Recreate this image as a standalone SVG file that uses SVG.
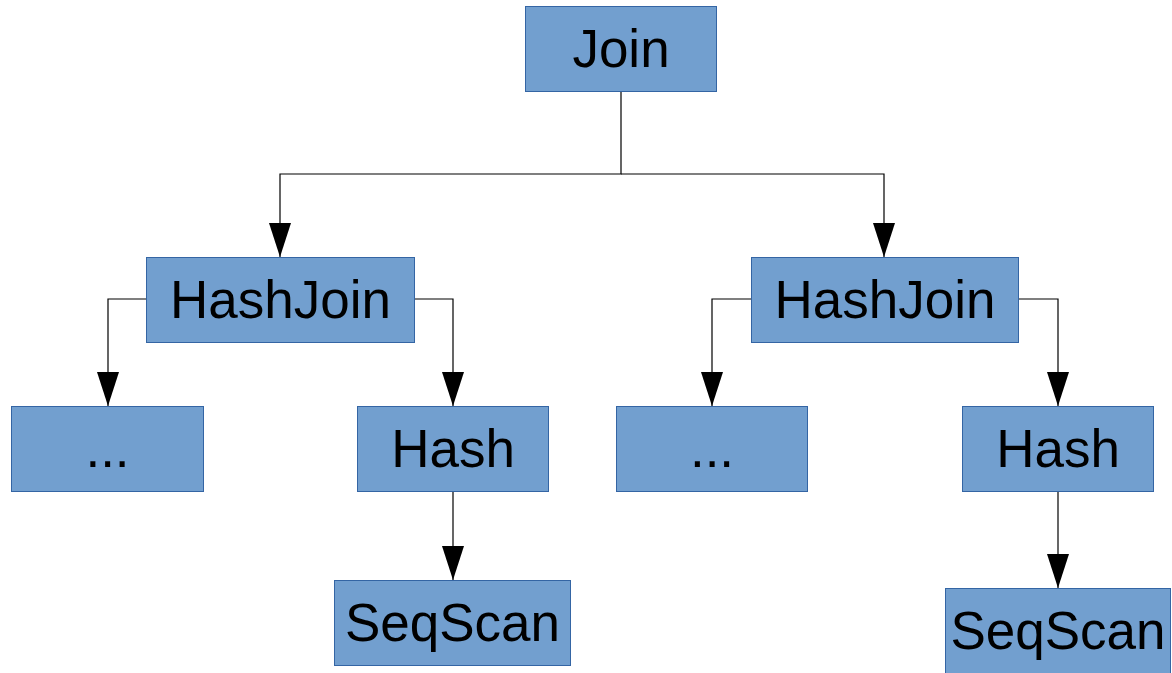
<svg xmlns="http://www.w3.org/2000/svg" width="1172" height="673" viewBox="0 0 1172 673">
<style>
.box{fill:#729fcf;stroke:#3465a4;stroke-width:1}
.lbl{font-family:"Liberation Sans",Arial,sans-serif;font-size:53px;fill:#000;text-anchor:middle}
.con{fill:none;stroke:#000;stroke-width:1.2;marker-end:url(#arr)}
</style>
<defs>
<marker id="arr" markerUnits="userSpaceOnUse" markerWidth="36" markerHeight="24" viewBox="0 0 36 24" refX="34" refY="12" orient="auto">
<path d="M0,1 L34,12 L0,23 Z" fill="#000"/>
</marker>
</defs>
<rect width="1172" height="673" fill="#fff"/>
<g id="connectors">
<path class="con" d="M621,92 V174 H280 V257"/>
<path class="con" d="M621,174 H884 V257"/>
<path class="con" d="M146,299 H108 V406"/>
<path class="con" d="M415,299 H453 V406"/>
<path class="con" d="M751,299 H712 V406"/>
<path class="con" d="M1019,299 H1058 V406"/>
<path class="con" d="M453,491 V580"/>
<path class="con" d="M1058,491 V588"/>
</g>
<g id="join"><rect class="box" x="525.5" y="6.5" width="191" height="85"/><text class="lbl" x="621" y="67">Join</text></g>
<g id="hashjoin-left"><rect class="box" x="146.5" y="257.5" width="268" height="85"/><text class="lbl" x="280.5" y="318">HashJoin</text></g>
<g id="hashjoin-right"><rect class="box" x="751.5" y="257.5" width="267" height="85"/><text class="lbl" x="885" y="318">HashJoin</text></g>
<g id="dots-left"><rect class="box" x="11.5" y="406.5" width="192" height="85"/><text class="lbl" x="107.5" y="467">...</text></g>
<g id="hash-left"><rect class="box" x="357.5" y="406.5" width="191" height="85"/><text class="lbl" x="453" y="467">Hash</text></g>
<g id="dots-right"><rect class="box" x="616.5" y="406.5" width="191" height="85"/><text class="lbl" x="712" y="467">...</text></g>
<g id="hash-right"><rect class="box" x="962.5" y="406.5" width="191" height="85"/><text class="lbl" x="1058" y="467">Hash</text></g>
<g id="seqscan-left"><rect class="box" x="334.5" y="580.5" width="236" height="85"/><text class="lbl" x="452.5" y="641">SeqScan</text></g>
<g id="seqscan-right"><rect class="box" x="945.5" y="588.5" width="225" height="85"/><text class="lbl" x="1058" y="649">SeqScan</text></g>
</svg>
